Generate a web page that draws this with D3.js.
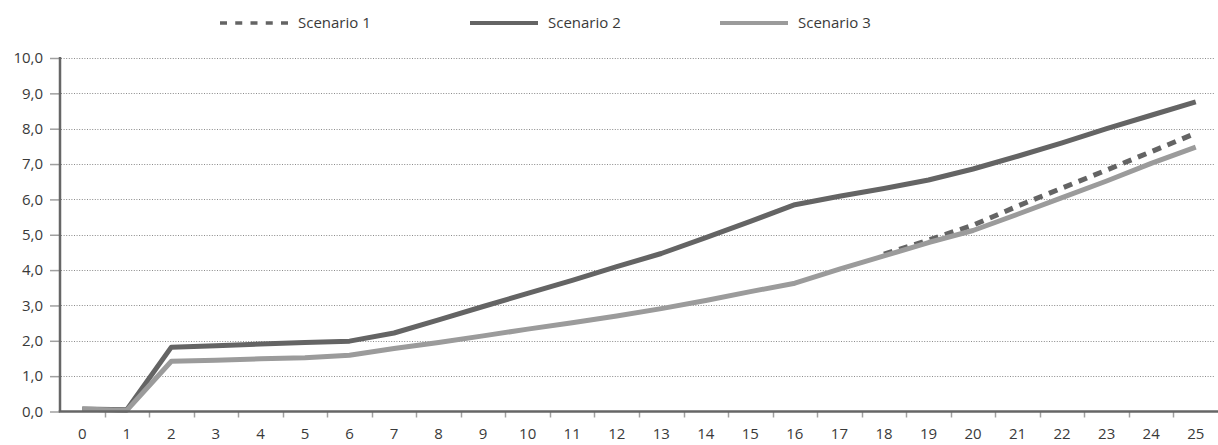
<!DOCTYPE html>
<html>
<head>
<meta charset="utf-8">
<script src="https://cdn.jsdelivr.net/npm/d3@7"></script>
<style>
  body { margin: 0; background: #fff; }
  text { font-family: "Open Sans", sans-serif; fill: #3a3a3a; }
</style>
</head>
<body>
<div class="chart"></div>
<script>
var years = ["0","1","2","3","4","5","6","7","8","9","10","11","12","13","14","15","16","17","18","19","20","21","22","23","24","25"];
var yTicks = [0, 1, 2, 3, 4, 5, 6, 7, 8, 9, 10];

var scenario1 = [null, null, null, null, null, null, null, null, null, null, null, null, null, null, null, null, null, null,
                 4.45, 4.85, 5.27, 5.81, 6.32, 6.83, 7.35, 7.87];
var scenario2 = [0.07, 0.05, 1.82, 1.86, 1.91, 1.95, 1.99, 2.22, 2.59, 2.97, 3.34, 3.71, 4.10, 4.47, 4.92, 5.38, 5.85,
                 6.09, 6.31, 6.55, 6.86, 7.22, 7.60, 8.00, 8.38, 8.76];
var scenario3 = [0.07, 0.03, 1.42, 1.45, 1.49, 1.52, 1.59, 1.78, 1.95, 2.14, 2.33, 2.51, 2.70, 2.91, 3.14, 3.39, 3.63,
                 4.03, 4.40, 4.78, 5.12, 5.58, 6.05, 6.52, 7.02, 7.48];

var seriesNames = ["Scenario 1", "Scenario 2", "Scenario 3"];

var width = 1218, height = 445;
var margin = {top: 58, right: 0, bottom: 33, left: 60};

var svg = d3.select(".chart").append("svg")
    .attr("width", width)
    .attr("height", height);

var x = d3.scaleBand()
    .domain(years)
    .range([margin.left, width - margin.right]);

var y = d3.scaleLinear()
    .domain([0, 10])
    .range([height - margin.bottom - 0.5, margin.top]);

// gridlines
svg.append("g")
    .attr("class", "grid")
  .selectAll("line")
  .data(yTicks.slice(1))
  .enter().append("line")
    .attr("x1", margin.left + 1)
    .attr("x2", width - 4)
    .attr("y1", function(d) { return Math.round(y(d)) + 0.5; })
    .attr("y2", function(d) { return Math.round(y(d)) + 0.5; })
    .attr("stroke", "#8a8a8a")
    .attr("stroke-width", 1)
    .attr("stroke-dasharray", "1,1.6");

// y axis
var yAxis = svg.append("g")
    .attr("transform", "translate(" + margin.left + ",0)")
    .call(d3.axisLeft(y).tickValues(yTicks).tickSize(9).tickPadding(8)
      .tickFormat(function(d) { return d3.format(".1f")(d).replace(".", ","); }));
yAxis.select(".domain").remove();
yAxis.selectAll(".tick line").attr("stroke", "#a0a0a0").attr("stroke-width", 1.5).attr("x2", -10);
yAxis.selectAll(".tick text").style("font-size", "15px").attr("fill", "#3a3a3a");

// x axis, ticks at category boundaries
var xAxisG = svg.append("g")
    .attr("transform", "translate(0," + y(0) + ")");
xAxisG.selectAll("line.xt")
  .data(years.slice(1))
  .enter().append("line")
    .attr("class", "xt")
    .attr("x1", function(d) { return Math.round(x(d)) + 0.5; })
    .attr("x2", function(d) { return Math.round(x(d)) + 0.5; })
    .attr("y1", 0)
    .attr("y2", 6)
    .attr("stroke", "#a0a0a0")
    .attr("stroke-width", 1.5);
xAxisG.selectAll("text")
  .data(years)
  .enter().append("text")
    .attr("x", function(d) { return x(d) + x.bandwidth() / 2; })
    .attr("y", 27)
    .attr("text-anchor", "middle")
    .style("font-size", "15px")
    .text(function(d) { return d; });

// lines
var line = d3.line()
    .defined(function(d) { return d != null; })
    .x(function(d, i) { return x(years[i]) + x.bandwidth() / 2; })
    .y(function(d) { return y(d); });

var styles = [
  {color: "#646464", dash: "9,7"},
  {color: "#646464", dash: null},
  {color: "#9b9b9b", dash: null}
];

[scenario1, scenario2, scenario3].forEach(function(s, k) {
  svg.append("path")
      .datum(s)
      .attr("fill", "none")
      .attr("stroke", styles[k].color)
      .attr("stroke-width", 5)
      .attr("stroke-linejoin", "round")
      .attr("stroke-dasharray", styles[k].dash)
      .attr("d", line);
});

// axis lines on top
svg.append("line")
    .attr("x1", margin.left).attr("x2", margin.left)
    .attr("y1", margin.top - 1).attr("y2", y(0))
    .attr("stroke", "#666").attr("stroke-width", 2.5);
svg.append("line")
    .attr("x1", margin.left - 1.25).attr("x2", width)
    .attr("y1", y(0)).attr("y2", y(0))
    .attr("stroke", "#666").attr("stroke-width", 2.5);

// legend
var legend = svg.append("g")
    .attr("class", "legend")
  .selectAll("g")
  .data(seriesNames)
  .enter().append("g")
    .attr("transform", function(d, i) { return "translate(" + (220 + i * 250) + ",23)"; });

legend.append("line")
    .attr("x1", 0).attr("x2", 68)
    .attr("stroke", function(d, i) { return styles[i].color; })
    .attr("stroke-width", function(d, i) { return i == 0 ? 3.5 : 4; })
    .attr("stroke-dasharray", function(d, i) { return i == 0 ? "7,8.25" : null; });

legend.append("text")
    .attr("x", 78)
    .attr("dy", "0.35em")
    .style("font-size", "15px")
    .text(function(d) { return d; });
</script>
</body>
</html>
